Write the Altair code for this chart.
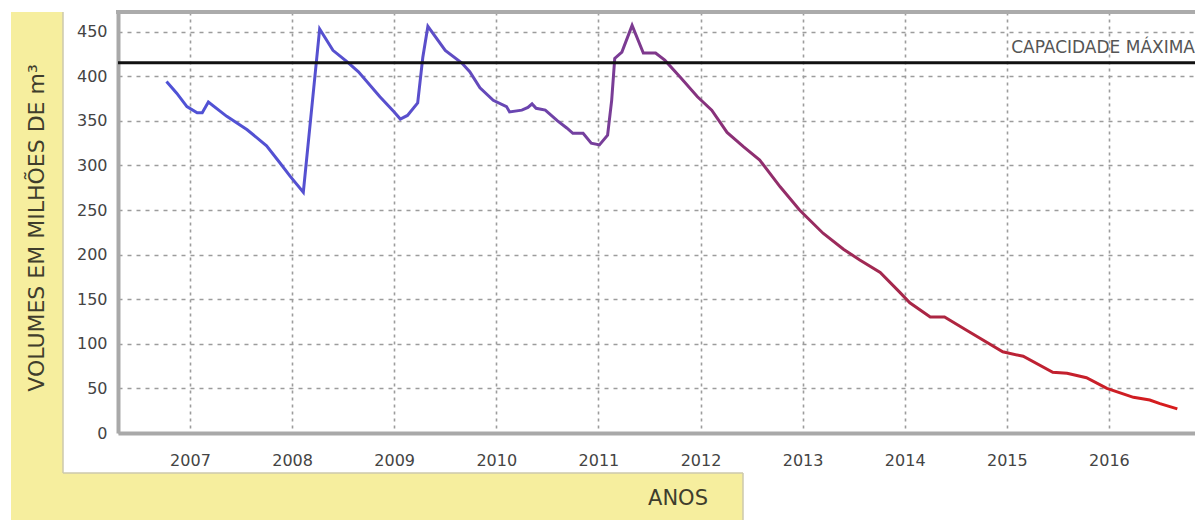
import altair as alt
import pandas as pd

# ---- data ----
anos = [2006.77, 2006.87, 2006.97, 2007.07, 2007.12, 2007.18, 2007.36, 2007.56, 2007.75, 2007.88,
        2007.98, 2008.11, 2008.27, 2008.40, 2008.54, 2008.65, 2008.86, 2009.00, 2009.06, 2009.13,
        2009.23, 2009.28, 2009.33, 2009.50, 2009.66, 2009.74, 2009.84, 2009.97, 2010.10, 2010.13,
        2010.25, 2010.31, 2010.35, 2010.39, 2010.48, 2010.60, 2010.69, 2010.75, 2010.85, 2010.93,
        2011.01, 2011.09, 2011.13, 2011.16, 2011.23, 2011.33, 2011.44, 2011.56, 2011.65, 2011.80,
        2011.97, 2012.11, 2012.26, 2012.42, 2012.58, 2012.78, 2012.97, 2013.20, 2013.40, 2013.56,
        2013.76, 2013.95, 2014.05, 2014.25, 2014.39, 2014.61, 2014.96, 2015.16, 2015.45, 2015.59,
        2015.78, 2015.98, 2016.24, 2016.40, 2016.50, 2016.67]
volumes = [394, 381, 366, 359, 359, 371, 355, 340, 322, 303,
           288, 270, 453, 429, 416, 405, 377, 360, 352, 356,
           370, 421, 456, 429, 415, 405, 387, 373, 366, 360,
           362, 365, 369, 364, 362, 350, 342, 336, 336, 325,
           323, 334, 373, 420, 427, 457, 426, 426, 418, 399,
           377, 362, 337, 321, 306, 276, 250, 224, 206, 194,
           180, 158, 146, 130, 130, 115, 91, 86, 68, 67,
           62, 50, 40, 37, 33, 27]
capacidade = [415]
capacidade_label = ["CAPACIDADE MÁXIMA"]
year_ticks = [2007, 2008, 2009, 2010, 2011, 2012, 2013, 2014, 2015, 2016]
y_ticks = [0, 50, 100, 150, 200, 250, 300, 350, 400, 450]

W, H = 1077, 421
FONT = "DejaVu Sans"
YELLOW = "#f6ee9e"
EDGE = "#cdc9ad"

df = pd.DataFrame({"ano": anos, "volume": volumes})
cap_df = pd.DataFrame({"volume": capacidade, "label": capacidade_label})
one = pd.DataFrame({"a": [0]})

xscale = alt.Scale(domain=[2006.295, 2016.843], nice=False, zero=False)
yscale = alt.Scale(domain=[0, 472], nice=False, zero=True)

# decorative frame (yellow panels)
def rect(x, x2, y, y2, color):
    return alt.Chart(one).mark_rect(color=color, clip=False).encode(
        x=alt.value(x), x2=alt.value(x2), y=alt.value(y), y2=alt.value(y2))

def edge(x, x2, y, y2):
    return alt.Chart(one).mark_rule(color=EDGE, strokeWidth=1.5, clip=False).encode(
        x=alt.value(x), x2=alt.value(x2), y=alt.value(y), y2=alt.value(y2))

bg = [
    rect(-107, -55, 0, 508, YELLOW),
    rect(-107, 625, 461, 508, YELLOW),
    edge(-55, -55, 0, 461),
    edge(-55, 625, 461, 461),
    edge(625, 625, 461, 508),
]

ytitle = alt.Chart(one).mark_text(
    text="VOLUMES EM MILHÕES DE m³", angle=270, font=FONT, fontSize=22,
    color="#3f3d2c", align="center", baseline="middle", clip=False
).encode(x=alt.value(-81), y=alt.value(216))

xtitle = alt.Chart(one).mark_text(
    text="ANOS", font=FONT, fontSize=21, color="#3f3d2c",
    align="center", baseline="middle", clip=False
).encode(x=alt.value(560), y=alt.value(487))

top_border = alt.Chart(one).mark_rule(color="#ababab", strokeWidth=4).encode(
    x=alt.value(-2), x2=alt.value(W), y=alt.value(0))

line = alt.Chart(df).mark_line(
    strokeWidth=3,
    stroke=alt.Gradient(
        gradient="linear", x1=0, x2=1, y1=0, y2=0,
        stops=[
            alt.GradientStop(offset=0.0, color="#4f52d6"),
            alt.GradientStop(offset=0.25, color="#5a4fcc"),
            alt.GradientStop(offset=0.42, color="#763f9c"),
            alt.GradientStop(offset=0.55, color="#8a3078"),
            alt.GradientStop(offset=0.75, color="#aa2644"),
            alt.GradientStop(offset=1.0, color="#d81b1b"),
        ],
    ),
).encode(
    x=alt.X("ano:Q", scale=xscale,
            axis=alt.Axis(values=year_ticks, format="d", title=None)),
    y=alt.Y("volume:Q", scale=yscale,
            axis=alt.Axis(values=y_ticks, title=None)),
)

cap_line = alt.Chart(cap_df).mark_rule(color="#111111", strokeWidth=3).encode(
    y=alt.Y("volume:Q", scale=yscale), x=alt.value(0), x2=alt.value(W))

cap_text = alt.Chart(cap_df).mark_text(
    font=FONT, fontSize=17, color="#555555", align="right", baseline="middle",
    dy=-15, clip=False
).encode(y=alt.Y("volume:Q", scale=yscale), x=alt.value(W), text="label:N")

chart = alt.layer(*bg, ytitle, xtitle, line, cap_line, cap_text, top_border).properties(
    width=W, height=H,
    autosize=alt.AutoSizeParams(type="none"),
    padding={"left": 110, "top": 4, "right": 0, "bottom": 87},
).configure_view(stroke=None).configure_axisX(
    grid=True, gridColor="#9c9c9c", gridDash=[3, 4], gridWidth=1.6,
    domainColor="#a9a9a9", domainWidth=4, ticks=False, tickSize=0,
    labelFont=FONT, labelFontSize=16, labelColor="#444444", labelPadding=19,
).configure_axisY(
    grid=True, gridColor="#9c9c9c", gridDash=[4, 5], gridWidth=1.6,
    domainColor="#a9a9a9", domainWidth=4, ticks=False, tickSize=0,
    labelFont=FONT, labelFontSize=16, labelColor="#444444", labelPadding=11,
)

chart.save("out.html", embed_options={"renderer": "svg", "actions": False})
